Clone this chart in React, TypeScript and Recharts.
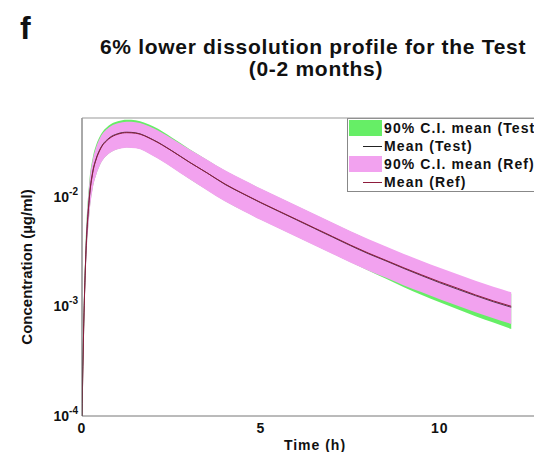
import React from "react";
import { Area, ComposedChart, Legend, Line, XAxis, YAxis } from "recharts";

// Sampling times (h)
const time = [
  0, 0.05, 0.1, 0.2, 0.3, 0.4, 0.5, 0.75, 1, 1.25, 1.5, 2, 2.5, 3, 3.5, 4, 4.5,
  5, 5.5, 6, 6.5, 7, 7.5, 8, 8.5, 9, 9.5, 10, 10.5, 11, 11.5, 12,
];

// Reference product (µg/ml)
const refMean = [
  0.0001, 0.0007, 0.0025, 0.0092, 0.0165, 0.022, 0.0265, 0.0335, 0.037, 0.0382,
  0.0378, 0.0326, 0.0262, 0.0206, 0.0164, 0.013, 0.01065, 0.00882, 0.00738,
  0.00618, 0.00517, 0.00433, 0.00362, 0.00306, 0.00262, 0.00224, 0.00193,
  0.00167, 0.00146, 0.00127, 0.00112, 0.001,
];
const refHi = [
  0.0001, 0.0009, 0.0033, 0.0125, 0.0215, 0.0285, 0.034, 0.0425, 0.0466,
  0.0481, 0.0476, 0.0419, 0.034, 0.027, 0.0217, 0.01734, 0.01428, 0.01183,
  0.0099, 0.00829, 0.00693, 0.00581, 0.00485, 0.0041, 0.00351, 0.003, 0.00259,
  0.00224, 0.001954, 0.001706, 0.001505, 0.00134,
];
const refLo = [
  0.0001, 0.0005, 0.0018, 0.0065, 0.0118, 0.0158, 0.0192, 0.0245, 0.027,
  0.0279, 0.0276, 0.02334, 0.01854, 0.01442, 0.01137, 0.009, 0.00738, 0.00611,
  0.00511, 0.00428, 0.00358, 0.003, 0.00251, 0.00212, 0.00182, 0.00155,
  0.00134, 0.001157, 0.00101, 0.000881, 0.000778, 0.00069,
];

// Test product (µg/ml)
const testMean = [
  0.0001, 0.00072, 0.0026, 0.0094, 0.0168, 0.0224, 0.0269, 0.034, 0.0374,
  0.0386, 0.0381, 0.0328, 0.0263, 0.0206, 0.0164, 0.0129, 0.0106, 0.00877,
  0.00733, 0.00613, 0.00512, 0.00428, 0.00358, 0.00302, 0.00259, 0.00221,
  0.0019, 0.00164, 0.00143, 0.00125, 0.0011, 0.00098,
];
const testHi = [
  0.0001, 0.00095, 0.0035, 0.0132, 0.0226, 0.0298, 0.0355, 0.0445, 0.0486,
  0.0502, 0.0497, 0.0434, 0.0347, 0.0271, 0.0215, 0.0172, 0.01415, 0.01172,
  0.0098, 0.0082, 0.00686, 0.00575, 0.0048, 0.00405, 0.00346, 0.00295,
  0.00254, 0.00219, 0.00191, 0.00166, 0.00146, 0.0013,
];
const testLo = [
  0.0001, 0.0005, 0.0019, 0.0067, 0.012, 0.016, 0.0194, 0.0247, 0.0272,
  0.0281, 0.0278, 0.0235, 0.0187, 0.01455, 0.01148, 0.0091, 0.00745, 0.00617,
  0.00516, 0.00432, 0.00362, 0.00303, 0.00253, 0.00212, 0.00178, 0.00149,
  0.00127, 0.00109, 0.00094, 0.00081, 0.00071, 0.00062,
];

const xTicks = [0, 5, 10];
const yTicks = [0.0001, 0.001, 0.01];

const GREEN = "#66ee66";
const PINK = "#f2a2ef";
const REF_LINE = "#8e1c3c";
const TEST_LINE = "#222222";
const FONT = "'Liberation Sans', Arial, sans-serif";

const legendItems = [
  { label: "90% C.I. mean (Test)", kind: "patch", color: GREEN },
  { label: "Mean (Test)", kind: "line", color: TEST_LINE },
  { label: "90% C.I. mean (Ref)", kind: "patch", color: PINK },
  { label: "Mean (Ref)", kind: "line", color: REF_LINE },
];

const data = time.map((t, i) => ({
  t,
  refMean: refMean[i],
  refBand: [refLo[i], refHi[i]],
  testMean: testMean[i],
  testBand: [testLo[i], testHi[i]],
}));

function PowerTick(props: any) {
  const { x, y, payload } = props;
  const exp = Math.round(Math.log10(payload.value));
  return (
    <text
      x={x - 2}
      y={y + 5}
      textAnchor="end"
      fontFamily={FONT}
      fontWeight={700}
      fontSize={14}
      fill="#111"
    >
      10
      <tspan dy={-7} fontSize={10}>
        {exp}
      </tspan>
    </text>
  );
}

function TimeTick(props: any) {
  const { x, y, payload } = props;
  return (
    <text
      x={x}
      y={y + 15}
      textAnchor="middle"
      fontFamily={FONT}
      fontWeight={700}
      fontSize={14}
      letterSpacing={1}
      fill="#111"
    >
      {payload.value}
    </text>
  );
}

function LegendBox() {
  return (
    <div
      style={{
        width: 198,
        border: "1px solid #888",
        background: "#fff",
        fontFamily: FONT,
        fontWeight: 700,
        fontSize: 14,
        letterSpacing: 1.1,
        color: "#111",
        whiteSpace: "nowrap",
      }}
    >
      {legendItems.map((item) => (
        <div
          key={item.label}
          style={{ height: 18, display: "flex", alignItems: "center" }}
        >
          <div
            style={{
              width: 33,
              height: 16,
              marginLeft: 1,
              marginRight: 2,
              position: "relative",
            }}
          >
            {item.kind === "patch" ? (
              <div style={{ width: 33, height: 16, background: item.color }} />
            ) : (
              <div
                style={{
                  position: "absolute",
                  left: 14,
                  right: 0,
                  top: 8,
                  height: 1,
                  background: item.color,
                }}
              />
            )}
          </div>
          <span>{item.label}</span>
        </div>
      ))}
    </div>
  );
}

export default function App() {
  return (
    <div
      style={{
        position: "fixed",
        left: 0,
        top: 0,
        width: 534,
        height: 452,
        overflow: "hidden",
        background: "#fff",
      }}
    >
      <ComposedChart
        width={560}
        height={452}
        data={data}
        margin={{ top: 118, right: 13, left: 0, bottom: 0 }}
      >
        <XAxis
          dataKey="t"
          type="number"
          domain={[0, 13]}
          ticks={xTicks}
          allowDataOverflow
          height={36}
          tickLine={false}
          tickSize={0}
          axisLine={{ stroke: "#777" }}
          tick={<TimeTick />}
        />
        <YAxis
          scale="log"
          domain={[0.0001, 0.052]}
          ticks={yTicks}
          allowDataOverflow
          width={82}
          tickLine={false}
          tickSize={0}
          axisLine={{ stroke: "#555" }}
          tick={<PowerTick />}
        />
        <Legend
          layout="vertical"
          align="center"
          verticalAlign="middle"
          wrapperStyle={{ position: "absolute", top: 118, left: 347, width: 200 }}
          content={() => <LegendBox />}
        />
        <Area
          type="monotone"
          dataKey="testBand"
          stroke="none"
          fill={GREEN}
          fillOpacity={1}
          isAnimationActive={false}
        />
        <Area
          type="monotone"
          dataKey="refBand"
          stroke="none"
          fill={PINK}
          fillOpacity={1}
          isAnimationActive={false}
        />
        <Line
          type="monotone"
          dataKey="testMean"
          stroke={TEST_LINE}
          strokeWidth={0.8}
          dot={false}
          isAnimationActive={false}
        />
        <Line
          type="monotone"
          dataKey="refMean"
          stroke={REF_LINE}
          strokeWidth={1}
          dot={false}
          isAnimationActive={false}
        />
      </ComposedChart>
      <svg
        width={534}
        height={452}
        style={{ position: "absolute", left: 0, top: 0, pointerEvents: "none" }}
        fontFamily={FONT}
        fontWeight={700}
        fill="#111"
      >
        <line x1={82} y1={118} x2={547} y2={118} stroke="#999" strokeWidth={1} />
        <text x={20} y={39} fontSize={32}>
          f
        </text>
        <text x={313} y={54} fontSize={21} textAnchor="middle" letterSpacing={0.7}>
          6% lower dissolution profile for the Test
        </text>
        <text x={316} y={76} fontSize={21} textAnchor="middle" letterSpacing={0.7}>
          (0-2 months)
        </text>
        <text
          transform="translate(32,267) rotate(-90)"
          fontSize={15}
          textAnchor="middle"
        >
          Concentration (µg/ml)
        </text>
        <text x={315} y={450} fontSize={14} textAnchor="middle" letterSpacing={1}>
          Time (h)
        </text>
      </svg>
    </div>
  );
}
